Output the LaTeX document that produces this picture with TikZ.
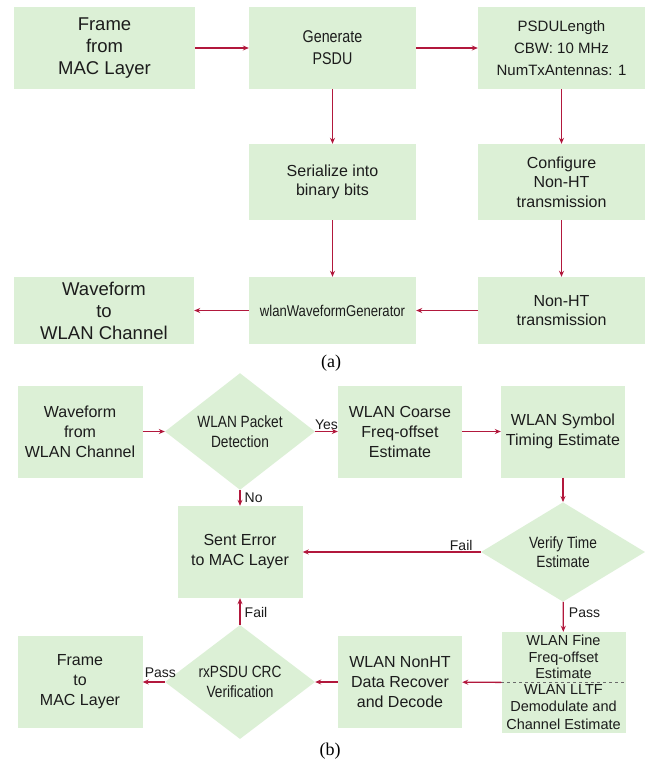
\documentclass[tikz,border=0pt]{standalone}
\usepackage{fontspec}
\setmainfont{Liberation Sans}
\newfontfamily\capfont{Liberation Serif}
\newfontfamily\narrowfont{Liberation Sans}[FakeStretch=0.84]
\usetikzlibrary{arrows.meta,shapes.geometric}
\definecolor{boxgreen}{RGB}{220,240,214}
\definecolor{flowred}{RGB}{178,24,60}
\definecolor{ink}{RGB}{28,28,28}

\begin{document}
\begin{tikzpicture}[x=1pt,y=-1pt,
  block/.style={fill=boxgreen, draw=none, text=ink, align=center, inner sep=0pt},
  decision/.style={diamond, fill=boxgreen, draw=none, text=ink, align=center, inner sep=0pt},
  flow/.style={draw=flowred, line width=1.4pt, -{Stealth[length=6pt,width=5pt]}},
  tag/.style={text=ink, font=\fontsize{14}{16}\selectfont, inner sep=1pt},
  big/.style={font=\fontsize{18.5}{22}\selectfont},
  mid/.style={font=\fontsize{16}{20}\selectfont},
  midnarrow/.style={font=\narrowfont\fontsize{16.3}{19.5}\selectfont},
  caption/.style={font=\capfont\fontsize{18}{20}\selectfont, text=black}]

\fill[white] (0,0) rectangle (656,762);
\path[use as bounding box] (0,0) rectangle (656,762);

% ---------------- (a) transmitter ----------------
\node[block, big, minimum width=181pt, minimum height=82pt] (frameA) at (104.5,48) {Frame\\from\\MAC Layer};
\node[block, font=\narrowfont\fontsize{17}{22}\selectfont, minimum width=167pt, minimum height=82pt] (gen) at (332.5,48) {Generate\\PSDU};
\node[block, font=\fontsize{15}{22}\selectfont, minimum width=167pt, minimum height=82pt] (psdu) at (561.5,48) {PSDULength\\CBW: 10 MHz\\NumTxAntennas: 1};
\node[block, font=\fontsize{16}{19.5}\selectfont, minimum width=167pt, minimum height=76pt] (ser) at (332.5,182) {Serialize into\\binary bits};
\node[block, font=\fontsize{16}{19.5}\selectfont, minimum width=167pt, minimum height=76pt] (conf) at (561.5,182) {Configure\\Non-HT\\transmission};
\node[block, big, minimum width=180pt, minimum height=67pt] (wave) at (104,310.5) {Waveform\\to\\WLAN Channel};
\node[block, font=\narrowfont\fontsize{15.6}{19.5}\selectfont, minimum width=167pt, minimum height=67pt] (wlan) at (332.5,310.5) {wlanWaveformGenerator};
\node[block, font=\fontsize{16}{19.5}\selectfont, minimum width=167pt, minimum height=67pt] (nonht) at (561.5,310.5) {Non-HT\\transmission};

\draw[flow] (frameA) -- (gen);
\draw[flow] (gen) -- (psdu);
\draw[flow] (gen) -- (ser);
\draw[flow] (psdu) -- (conf);
\draw[flow] (ser) -- (wlan);
\draw[flow] (conf) -- (nonht);
\draw[flow] (nonht) -- (wlan);
\draw[flow] (wlan) -- (wave);

\node[caption] (capA) at (331,363) {(a)};

% ---------------- (b) receiver ----------------
\node[block, mid, minimum width=125pt, minimum height=92pt] (wfrom) at (80,431.5) {Waveform\\from\\WLAN Channel};
\node[decision, midnarrow, minimum width=150pt, minimum height=90pt] (pkt) at (240,431.5) {WLAN Packet\\Detection};
\node[block, mid, minimum width=124pt, minimum height=92pt] (coarse) at (400,431.5) {WLAN Coarse\\Freq-offset\\Estimate};
\node[block, mid, minimum width=124pt, minimum height=92pt] (sym) at (563,431.5) {WLAN Symbol\\Timing Estimate};
\node[decision, midnarrow, minimum width=164pt, minimum height=91pt] (verify) at (563,552) {Verify Time\\Estimate};
\node[block, mid, minimum width=125pt, minimum height=92pt] (sent) at (240,552) {Sent Error\\to MAC Layer};

\node[block, minimum width=124pt, minimum height=101pt] (fine) at (563.5,682.5) {};
\draw[ink!65, dashed, line width=0.6pt] (fine.west) -- (fine.east);
\node[text=ink, align=center, inner sep=0pt, font=\fontsize{14.5}{16.5}\selectfont] (fineTop) at (563.5,657) {WLAN Fine\\Freq-offset\\Estimate};
\node[text=ink, align=center, inner sep=0pt, font=\fontsize{14.5}{17.5}\selectfont] (fineBot) at (563.5,707) {WLAN LLTF\\Demodulate and\\Channel Estimate};

\node[block, mid, minimum width=124pt, minimum height=92pt] (nonhtd) at (400,682) {WLAN NonHT\\Data Recover\\and Decode};
\node[decision, midnarrow, minimum width=150pt, minimum height=89pt] (crc) at (240,682) {rxPSDU CRC\\Verification};
\node[block, mid, minimum width=125pt, minimum height=92pt] (fto) at (80,682) {Frame\\to\\MAC Layer};

\draw[flow] (wfrom) -- (pkt);
\draw[flow] (pkt) -- node[tag, above] {Yes} (coarse);
\draw[flow] (coarse) -- (sym);
\draw[flow] (sym) -- (verify);
\draw[flow] (pkt) -- node[tag, right, xshift=3pt] {No} (sent);
\draw[flow] (verify) -- node[tag, above, pos=0.11] {Fail} (sent);
\draw[flow] (verify) -- node[tag, right, pos=0.38, xshift=4pt] {Pass} (fine);
\draw[flow] (fine) -- (nonhtd);
\draw[flow] (nonhtd) -- (crc);
\draw[flow] (crc) -- node[tag, right, pos=0.45, xshift=3pt] {Fail} (sent);
\draw[flow] (crc) -- node[tag, above, pos=0.2, yshift=3pt] {Pass} (fto);

\node[caption] (capB) at (330,751) {(b)};
\end{tikzpicture}
\end{document}
